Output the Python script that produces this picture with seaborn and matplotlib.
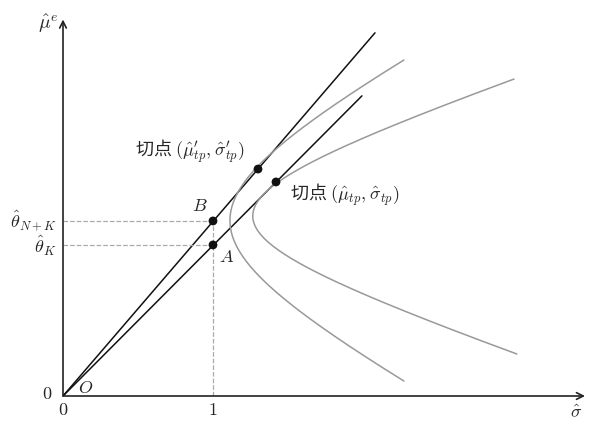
import numpy as np
import pandas as pd
import seaborn as sns
import matplotlib.pyplot as plt

sns.set_theme(style="white")
plt.rcParams["mathtext.fontset"] = "cm"
plt.rcParams["font.family"] = ["DejaVu Serif"]

# tangent lines from the origin: slope and end of the drawn segment
line_names = ["B", "A"]
line_slopes = [1.164, 1.004]
line_ends = [2.08, 1.993]

# frontiers (hyperbolas): vertex sigma, vertex mu, asymptote slope, mu range
front_names = ["N+K", "K"]
front_sigma0 = [1.113, 1.265]
front_mu0 = [1.17, 1.20]
front_k = [0.54, 0.3347]
front_mu_lo = [0.10, 0.28]
front_mu_hi = [2.24, 2.113]

# marked points
pt_sigma = [1.0, 1.0, 1.30, 1.42]
pt_mu = [1.167, 1.007, 1.513, 1.427]

theta_nk = 1.167
theta_k = 1.007

fig = plt.figure(figsize=(6.12, 4.31), dpi=100)
ax = fig.add_axes([63 / 612, 34 / 431, 525 / 612, 378 / 431])

# tangent lines
rows = []
for name, s, e in zip(line_names, line_slopes, line_ends):
    rows.append({"name": name, "sigma": 0.0, "mu": 0.0})
    rows.append({"name": name, "sigma": e, "mu": s * e})
lines = pd.DataFrame(rows)
sns.lineplot(data=lines, x="sigma", y="mu", units="name", estimator=None,
             color="#111111", linewidth=1.1, ax=ax)

# frontiers
rows = []
for name, s0, m0, k, lo, hi in zip(front_names, front_sigma0, front_mu0,
                                   front_k, front_mu_lo, front_mu_hi):
    for m in np.linspace(lo, hi, 200):
        rows.append({"name": name, "mu": m,
                     "sigma": np.sqrt(s0 ** 2 + ((m - m0) / k) ** 2)})
front = pd.DataFrame(rows)
sns.lineplot(data=front, x="sigma", y="mu", units="name", estimator=None,
             sort=False, color="#999999", linewidth=1.1, ax=ax)

# dashed guides
ax.plot([0, 1], [theta_nk, theta_nk], ls="--", color="#aaaaaa", lw=0.9)
ax.plot([0, 1], [theta_k, theta_k], ls="--", color="#aaaaaa", lw=0.9)
ax.plot([1, 1], [0, theta_nk], ls="--", color="#aaaaaa", lw=0.9)

sns.scatterplot(x=pt_sigma, y=pt_mu, color="#111111", s=40, zorder=5, ax=ax,
                edgecolor="none")

ax.set_xlim(0, 3.5)
ax.set_ylim(0, 2.52)
ax.axis("off")

# axes arrows
arr = dict(arrowstyle="->", color="#222222", lw=1.2, shrinkA=0, shrinkB=0)
ax.annotate("", xy=(3.48, 0), xytext=(0, 0), arrowprops=arr, annotation_clip=False)
ax.annotate("", xy=(0, 2.51), xytext=(0, 0), arrowprops=arr, annotation_clip=False)

fs = 13
ax.text(-0.03, 2.49, r"$\hat{\mu}^e$", fontsize=fs + 1, ha="right", va="center")
ax.text(3.42, -0.1, r"$\hat{\sigma}$", fontsize=fs, ha="center", va="center")
ax.text(0, -0.09, r"$0$", fontsize=fs, ha="center", va="center")
ax.text(1, -0.09, r"$1$", fontsize=fs, ha="center", va="center")
ax.text(-0.07, 0.02, r"$0$", fontsize=fs, ha="right", va="center")
ax.text(-0.04, theta_nk + 0.01, r"$\hat{\theta}_{N+K}$", fontsize=fs, ha="right", va="center")
ax.text(-0.04, theta_k + 0.0, r"$\hat{\theta}_K$", fontsize=fs, ha="right", va="center")
ax.text(0.1, 0.06, r"$O$", fontsize=fs, ha="left", va="center")
ax.text(0.91, 1.27, r"$B$", fontsize=fs, ha="center", va="center")
ax.text(1.09, 0.93, r"$A$", fontsize=fs, ha="center", va="center")

cjk = ["Noto Sans CJK SC", "DejaVu Serif"]
ax.text(0.48, 1.64, "切点 $(\\hat{\\mu}_{tp}^{\\prime}, \\hat{\\sigma}_{tp}^{\\prime})$",
        fontsize=fs, ha="left", va="center", family=cjk)
ax.text(1.51, 1.35, "切点 $(\\hat{\\mu}_{tp}, \\hat{\\sigma}_{tp})$", fontsize=fs,
        ha="left", va="center", family=cjk)

fig.savefig("out.png", dpi=100)
